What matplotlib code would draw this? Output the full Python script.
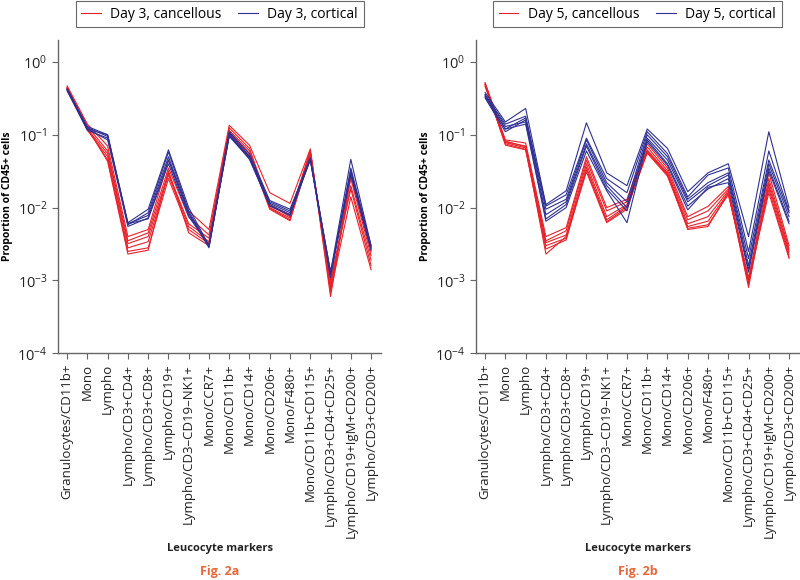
import matplotlib.pyplot as plt
import numpy as np

plt.rcParams['font.family'] = ['Open Sans', 'DejaVu Sans']

# Маркери лейкоцитів
markers = ['Granulocytes/CD11b+', 'Mono', 'Lympho', 'Lympho/CD3+CD4+', 'Lympho/CD3+CD8+',
           'Lympho/CD19+', 'Lympho/CD3\u2013CD19\u2013NK1+', 'Mono/CCR7+', 'Mono/CD11b+',
           'Mono/CD14+', 'Mono/CD206+', 'Mono/F480+', 'Mono/CD11b+CD115+',
           'Lympho/CD3+CD4+CD25+', 'Lympho/CD19+IgM+CD200+', 'Lympho/CD3+CD200+']

# День 3, губчаста кістка
day3_cancellous = [
    [0.47, 0.14, 0.070, 0.0040, 0.0050, 0.045, 0.0090, 0.0050, 0.135, 0.072, 0.0160, 0.0114, 0.064, 0.0007, 0.032, 0.0030],
    [0.45, 0.13, 0.060, 0.0035, 0.0045, 0.035, 0.0075, 0.0042, 0.125, 0.065, 0.0105, 0.0080, 0.060, 0.0006, 0.028, 0.0025],
    [0.44, 0.12, 0.055, 0.0032, 0.0040, 0.030, 0.0060, 0.0038, 0.115, 0.060, 0.0100, 0.0072, 0.058, 0.0008, 0.025, 0.0022],
    [0.43, 0.115, 0.050, 0.0028, 0.0034, 0.028, 0.0055, 0.0034, 0.110, 0.055, 0.0098, 0.0068, 0.055, 0.0009, 0.020, 0.0019],
    [0.42, 0.12, 0.045, 0.0025, 0.0028, 0.025, 0.0050, 0.0032, 0.105, 0.052, 0.0095, 0.0066, 0.052, 0.0010, 0.018, 0.0016],
    [0.44, 0.125, 0.043, 0.0023, 0.0026, 0.032, 0.0045, 0.0030, 0.100, 0.050, 0.0110, 0.0075, 0.060, 0.0007, 0.014, 0.0014],
]
# День 3, кортикальна кістка
day3_cortical = [
    [0.42, 0.13, 0.100, 0.0062, 0.0095, 0.062, 0.0100, 0.0030, 0.110, 0.055, 0.0125, 0.0095, 0.048, 0.0013, 0.046, 0.0030],
    [0.41, 0.12, 0.100, 0.0058, 0.0085, 0.058, 0.0090, 0.0029, 0.105, 0.050, 0.0120, 0.0090, 0.046, 0.0012, 0.035, 0.0029],
    [0.43, 0.125, 0.095, 0.0060, 0.0078, 0.050, 0.0085, 0.0028, 0.100, 0.048, 0.0115, 0.0085, 0.045, 0.0011, 0.032, 0.0028],
    [0.40, 0.115, 0.090, 0.0055, 0.0072, 0.045, 0.0080, 0.0029, 0.095, 0.047, 0.0110, 0.0080, 0.047, 0.0012, 0.030, 0.0027],
    [0.42, 0.12, 0.085, 0.0060, 0.0070, 0.040, 0.0075, 0.0031, 0.098, 0.046, 0.0105, 0.0078, 0.046, 0.0013, 0.028, 0.0026],
]
# День 5, губчаста кістка
day5_cancellous = [
    [0.52, 0.085, 0.077, 0.0040, 0.0053, 0.050, 0.0100, 0.0130, 0.075, 0.035, 0.0075, 0.0104, 0.0195, 0.0010, 0.030, 0.0030],
    [0.50, 0.080, 0.070, 0.0035, 0.0048, 0.045, 0.0090, 0.0120, 0.068, 0.032, 0.0068, 0.0090, 0.0180, 0.0009, 0.025, 0.0027],
    [0.48, 0.078, 0.066, 0.0033, 0.0042, 0.040, 0.0075, 0.0110, 0.062, 0.030, 0.0060, 0.0075, 0.0170, 0.0008, 0.022, 0.0025],
    [0.46, 0.075, 0.063, 0.0030, 0.0038, 0.036, 0.0068, 0.0105, 0.058, 0.028, 0.0055, 0.0065, 0.0160, 0.0009, 0.020, 0.0023],
    [0.50, 0.072, 0.062, 0.0027, 0.0036, 0.033, 0.0064, 0.0100, 0.056, 0.027, 0.0052, 0.0058, 0.0150, 0.0011, 0.018, 0.0021],
    [0.49, 0.082, 0.068, 0.0023, 0.0040, 0.031, 0.0062, 0.0095, 0.060, 0.029, 0.0050, 0.0055, 0.0160, 0.0010, 0.016, 0.0020],
]
# День 5, кортикальна кістка
day5_cortical = [
    [0.38, 0.15, 0.23, 0.0110, 0.0170, 0.146, 0.030, 0.0200, 0.120, 0.065, 0.0165, 0.030, 0.040, 0.0040, 0.110, 0.0100],
    [0.35, 0.14, 0.18, 0.0105, 0.0150, 0.090, 0.025, 0.0160, 0.110, 0.055, 0.0140, 0.028, 0.035, 0.0025, 0.060, 0.0090],
    [0.33, 0.12, 0.17, 0.0095, 0.0130, 0.085, 0.022, 0.0120, 0.100, 0.050, 0.0130, 0.022, 0.030, 0.0020, 0.045, 0.0085],
    [0.32, 0.11, 0.16, 0.0080, 0.0120, 0.075, 0.020, 0.0100, 0.090, 0.045, 0.0120, 0.020, 0.028, 0.0016, 0.040, 0.0075],
    [0.36, 0.13, 0.15, 0.0070, 0.0110, 0.070, 0.018, 0.0090, 0.085, 0.040, 0.0105, 0.018, 0.025, 0.0014, 0.035, 0.0065],
    [0.34, 0.12, 0.14, 0.0065, 0.0100, 0.060, 0.017, 0.0062, 0.080, 0.038, 0.0093, 0.019, 0.022, 0.0013, 0.032, 0.0060],
]

red = '#e8222a'
blue = '#2e3192'

fig = plt.figure(figsize=(8, 5.8), dpi=100)
panels = [
    (0.0725, 'Day 3', day3_cancellous, day3_cortical, 'Fig. 2a'),
    (0.595, 'Day 5', day5_cancellous, day5_cortical, 'Fig. 2b'),
]

x = np.arange(len(markers))
for left, day, canc, cort, caption in panels:
    ax = fig.add_axes([left, 0.391, 0.404, 0.54])
    for row in canc:
        ax.plot(x, row, color=red, lw=0.8)
    for row in cort:
        ax.plot(x, row, color=blue, lw=0.8)
    ax.set_yscale('log')
    ax.set_ylim(1e-4, 2)
    ax.set_xlim(-0.45, 15.5)
    ax.minorticks_off()
    ax.set_yticks([1e-4, 1e-3, 1e-2, 1e-1, 1])
    ax.set_xticks(x)
    ax.set_xticklabels(markers, rotation=90, fontsize=9.5, color='#222222')
    ax.tick_params(axis='y', labelsize=10.5, labelcolor='#222222')
    ax.tick_params(color='#666666', length=4, width=0.8)
    for s in ['top', 'right']:
        ax.spines[s].set_visible(False)
    for s in ['left', 'bottom']:
        ax.spines[s].set_color('#666666')
        ax.spines[s].set_linewidth(1.0)
    ax.set_ylabel('Proportion of CD45+ cells', fontsize=7.5, fontweight='bold')
    ax.yaxis.set_label_coords(-0.14, 0.5)

    h1, = ax.plot([], [], color=red, lw=0.8)
    h2, = ax.plot([], [], color=blue, lw=0.8)
    leg = ax.legend([h1, h2], [day + ', cancellous', day + ', cortical'], ncol=2,
                    loc='lower center', bbox_to_anchor=(0.5, 1.04), fontsize=10,
                    frameon=True, fancybox=False, handlelength=1.4, columnspacing=1.2,
                    handletextpad=0.7, borderpad=0.4, borderaxespad=0)
    leg.get_frame().set_edgecolor('#444444')
    leg.get_frame().set_linewidth(0.8)

    cx = left + 0.404 / 2
    fig.text(cx, 1 - 548 / 580, 'Leucocyte markers', ha='center', va='center',
             fontsize=8, fontweight='bold', color='#222222')
    fig.text(cx, 1 - 572 / 580, caption, ha='center', va='center',
             fontsize=9, fontweight='bold', color='#e8683a')

fig.savefig('out.png', dpi=100)
